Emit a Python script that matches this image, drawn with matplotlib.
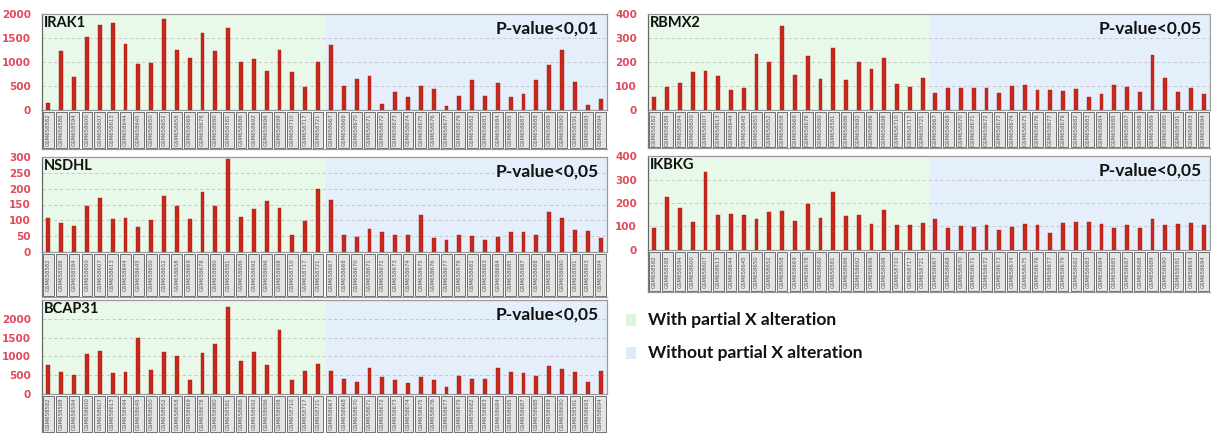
import matplotlib
matplotlib.use("Agg")
import matplotlib.pyplot as plt
from matplotlib.patches import Rectangle
import numpy as np

# ---------------- data ----------------
samples_with = ["GSM658582", "GSM658588", "GSM658594", "GSM658600", "GSM658607", "GSM658613",
                "GSM658644", "GSM658645", "GSM658650", "GSM658652", "GSM658658", "GSM658669",
                "GSM658678", "GSM658680", "GSM658581", "GSM658686", "GSM658692", "GSM658696",
                "GSM658698", "GSM658710", "GSM658717", "GSM658721"]
samples_without = ["GSM658667", "GSM658668", "GSM658670", "GSM658671", "GSM658672", "GSM658673",
                   "GSM658674", "GSM658675", "GSM658676", "GSM658677", "GSM658679", "GSM658682",
                   "GSM658683", "GSM658684", "GSM658685", "GSM658687", "GSM658688", "GSM658689",
                   "GSM658690", "GSM658591", "GSM658693", "GSM658694"]

irak1_with = [140, 1230, 680, 1530, 1770, 1810, 1370, 950, 970, 1900, 1260, 1090, 1600, 1230,
              1710, 1010, 1070, 820, 1240, 790, 470, 1000]
irak1_without = [1360, 490, 640, 710, 120, 370, 265, 510, 435, 85, 300, 615, 285, 570, 280, 335,
                 615, 930, 1240, 580, 105, 230]

nsdhl_with = [106, 93, 81, 144, 170, 105, 108, 78, 101, 176, 144, 103, 191, 144, 295, 111, 135,
              162, 139, 53, 99, 199]
nsdhl_without = [163, 53, 48, 74, 62, 55, 55, 118, 43, 38, 55, 49, 38, 48, 62, 64, 54, 125, 106,
                 71, 66, 43]

bcap31_with = [768, 580, 500, 1054, 1143, 554, 589, 1500, 643, 1116, 1009, 375, 1089, 1339, 2304,
               875, 1116, 777, 1714, 375, 625, 786]
bcap31_without = [607, 402, 321, 696, 446, 366, 286, 446, 366, 188, 491, 411, 402, 679, 580, 562,
                  473, 741, 652, 589, 313, 607]

rbmx2_with = [53, 94, 113, 160, 162, 141, 85, 90, 232, 199, 350, 145, 224, 129, 259, 126, 200,
              171, 215, 108, 94, 134]
rbmx2_without = [71, 92, 92, 90, 90, 71, 99, 103, 85, 85, 80, 88, 53, 67, 103, 94, 76, 228, 133,
                 73, 92, 67]

ikbkg_with = [95, 225, 180, 120, 333, 147, 152, 147, 131, 161, 165, 123, 194, 137, 246, 145, 147,
              109, 172, 105, 105, 116]
ikbkg_without = [134, 92, 102, 99, 105, 83, 98, 109, 106, 71, 116, 118, 118, 112, 94, 105, 92,
                 131, 105, 109, 116, 106]

genes = ["IRAK1", "NSDHL", "BCAP31", "RBMX2", "IKBKG"]
pvalues = ["P-value<0,01", "P-value<0,05", "P-value<0,05", "P-value<0,05", "P-value<0,05"]
yticks = [[0, 500, 1000, 1500, 2000], [0, 50, 100, 150, 200, 250, 300],
          [0, 500, 1000, 1500, 2000], [0, 100, 200, 300, 400], [0, 100, 200, 300, 400]]
ylims = [2000, 300, 2500, 400, 400]
legend_labels = ["With partial X alteration", "Without partial X alteration"]

values = [irak1_with + irak1_without, nsdhl_with + nsdhl_without, bcap31_with + bcap31_without,
          rbmx2_with + rbmx2_without, ikbkg_with + ikbkg_without]
samples = samples_with + samples_without
n_with = len(samples_with)

# ---------------- layout (pixels) ----------------
W, H = 1211, 433
fig = plt.figure(figsize=(W / 100, H / 100), dpi=100)
fig.patch.set_facecolor("white")

# (left, right, top, bottom_of_plot, bottom_of_labels)
boxes = [(42, 607, 14, 110, 149),
         (42, 607, 157, 252, 297),
         (42, 607, 300, 394, 433),
         (648, 1210, 14, 110, 148),
         (648, 1210, 156, 250, 292)]

GREEN = "#e8f9ea"
BLUE = "#e4effb"
BAR = "#c8281c"
TICKRED = "#e24a5c"
TITLEFONT = ["Lato", "DejaVu Sans"]


def fx(px):
    return px / W


def fy(py):
    return 1 - py / H


for i, (l, r, t, b, lb) in enumerate(boxes):
    vals = values[i]
    x = np.arange(len(vals))
    ax = fig.add_axes([fx(l), fy(b), fx(r - l), (b - t) / H])
    ax.set_xlim(-0.5, len(vals) - 0.5)
    ax.set_ylim(0, ylims[i])
    ax.axvspan(-0.5, n_with - 0.5, color=GREEN, zorder=0, lw=0)
    ax.axvspan(n_with - 0.5, len(vals) - 0.5, color=BLUE, zorder=0, lw=0)
    for yv in yticks[i][1:]:
        ax.axhline(yv, color="#c2c2c2", lw=0.6, ls=(0, (4, 3)), zorder=1)
    ax.bar(x, vals, width=0.3, color=BAR, edgecolor="#a81e14", lw=0.3, zorder=3)
    ax.set_xticks([])
    ax.set_yticks(yticks[i])
    ax.set_yticklabels([str(v) for v in yticks[i]], color=TICKRED, fontsize=7.5,
                       fontweight="bold")
    ax.tick_params(axis="y", length=0, pad=8)
    for s in ["top", "right", "bottom"]:
        ax.spines[s].set_color("#9a9a9a")
        ax.spines[s].set_linewidth(0.9)
    ax.spines["left"].set_color("#666666")
    ax.spines["left"].set_linewidth(0.9)
    ax.text(0.003, 0.98, genes[i], transform=ax.transAxes, ha="left", va="top",
            fontsize=10.5, fontweight="bold", family=TITLEFONT, color="#111111", zorder=5)
    ax.text(0.985, 0.93, pvalues[i], transform=ax.transAxes, ha="right", va="top",
            fontsize=12.5, fontweight="bold", family=TITLEFONT, color="#111111", zorder=5)

    # label strip
    lax = fig.add_axes([fx(l), fy(lb), fx(r - l), (lb - b) / H])
    lax.set_xlim(-0.5, len(vals) - 0.5)
    lax.set_ylim(0, 1)
    lax.axis("off")
    for j, name in enumerate(samples):
        lax.add_patch(Rectangle((j - 0.42, 0.02), 0.84, 0.94, facecolor="#e4e4e4",
                                edgecolor="#5a5a5a", lw=0.6))
        lax.text(j, 0.49, name, rotation=90, ha="center", va="center", fontsize=3.9,
                 color="#555555")
    # outer frame line on the left and bottom of the label strip
    lax.plot([-0.5, -0.5], [0, 1], color="#777777", lw=0.9, clip_on=False)
    lax.plot([-0.5, len(vals) - 0.5], [0, 0], color="#999999", lw=0.9, clip_on=False)

# legend
for k, (lab, col) in enumerate(zip(legend_labels, ["#dcf6de", "#dceafa"])):
    yc = 320 + k * 33
    fig.patches.append(Rectangle((fx(626), fy(yc + 6)), fx(10), 12 / H, facecolor=col,
                                 edgecolor="none", transform=fig.transFigure))
    fig.text(fx(648), fy(yc), lab, ha="left", va="center", fontsize=12.5, fontweight="bold",
             family=TITLEFONT, color="#111111")

fig.savefig("out.png", dpi=100)
